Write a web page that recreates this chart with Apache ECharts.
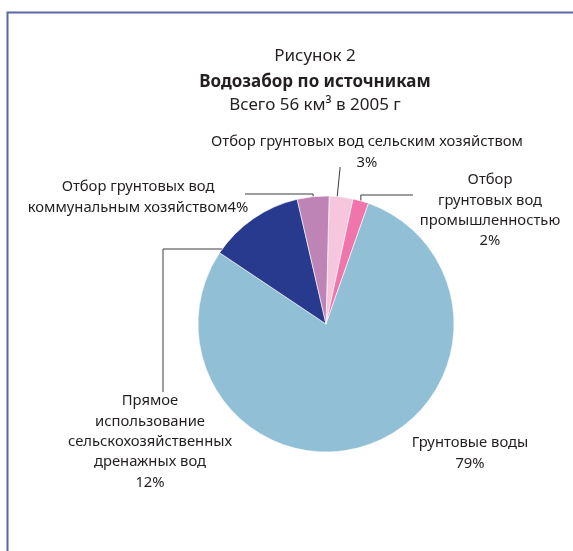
<!DOCTYPE html>
<html>
<head>
<meta charset="utf-8">
<script src="https://cdn.jsdelivr.net/npm/echarts@6/dist/echarts.min.js"></script>
<style>
  html, body { margin: 0; padding: 0; background: #fff; }
  #chart { width: 573px; height: 551px; }
</style>
</head>
<body>
<div id="chart"></div>
<script>
// Water withdrawal by source, 2005 (share of total, %)
const categories = [
  'Отбор грунтовых вод сельским хозяйством',
  'Отбор\nгрунтовых вод\nпромышленностью',
  'Грунтовые воды',
  'Прямое\nиспользование\nсельскохозяйственных\nдренажных вод',
  'Отбор грунтовых вод\nкоммунальным хозяйством'
];
const shares = [3, 2, 79, 12, 4];
const sliceColors = ['#f6c6dd', '#ef75ab', '#91bfd6', '#283a8e', '#bd84b5'];
const titleLines = ['Рисунок 2', 'Водозабор по источникам', 'Всего 56 км³ в 2005 г'];

const FONT = '"Noto Sans", sans-serif';
const TEXT_COLOR = '#231f20';
const LINE_H = 20.3;

const chart = echarts.init(document.getElementById('chart'), null, { renderer: 'canvas' });

// Label placement: centre x and top y of each label block
const labelPos = [
  { x: 367, y: 132 },
  { x: 490, y: 170 },
  { x: 470, y: 433 },
  { x: 150, y: 391 },
  { x: 138, y: 177 }
];

function pieGeom(i) {
  return chart.getModel().getSeriesByIndex(0).getData().getItemLayout(i);
}

// Elbow-shaped leader lines, starting on the slice edge
function leaderPoints(i, anchor) {
  switch (i) {
    case 0: return [[anchor[0] - 4, anchor[1] + 0.5], [anchor[0] - 2.5, 182], [anchor[0] - 1, 167]];
    case 1: return [anchor, [anchor[0], 195], [413, 195]];
    case 3: {
      const g = pieGeom(3);
      const y = 249;
      const x = g.cx - Math.sqrt(g.r * g.r - (y - g.cy) * (y - g.cy));
      return [[x, y], [163, y], [163, 392]];
    }
    case 4: return [anchor, [anchor[0], 194], [245, 194]];
  }
  return null;
}

const data = categories.map((name, i) => ({
  name: name,
  value: shares[i],
  itemStyle: { color: sliceColors[i] },
  label: { formatter: name + '\n' + shares[i] + '%' },
  labelLine: { show: i !== 2 }
}));
// the municipal label keeps its share on the same line as the name
data[4].label.formatter = 'Отбор грунтовых вод\nкоммунальным хозяйством' + shares[4] + '%';

const titleStyle = { fontFamily: FONT, fontSize: 17, fontWeight: 'normal', color: TEXT_COLOR };

const option = {
  backgroundColor: '#fff',
  animation: false,
  title: [
    { text: titleLines[0], left: 310, top: 42.5, textAlign: 'center', textStyle: titleStyle },
    { text: titleLines[1], left: 310, top: 68.5, textAlign: 'center',
      textStyle: Object.assign({}, titleStyle, { fontWeight: 'bold' }) },
    { text: titleLines[2], left: 310, top: 92, textAlign: 'center', textStyle: titleStyle }
  ],
  graphic: [
    { type: 'polyline', silent: true,
      shape: { points: [[7.5, 560], [7.5, 12.5], [580, 12.5]] },
      style: { stroke: '#5a68a6', lineWidth: 2, fill: null } }
  ],
  series: [{
    type: 'pie',
    center: [326, 324],
    radius: 128,
    startAngle: 88.6,
    clockwise: true,
    avoidLabelOverlap: false,
    itemStyle: { borderColor: '#ffffff', borderWidth: 0.6 },
    label: {
      show: true,
      position: 'outside',
      fontFamily: FONT,
      fontSize: 14.8,
      lineHeight: LINE_H,
      color: TEXT_COLOR,
      align: 'center'
    },
    labelLine: {
      show: true,
      length: 10,
      length2: 10,
      lineStyle: { color: '#3c3c3c', width: 1 }
    },
    labelLayout: function (params) {
      const i = params.dataIndex;
      const p = labelPos[i];
      const out = { x: p.x, y: p.y, align: 'center', verticalAlign: 'top' };
      const pts = params.labelLinePoints;
      if (pts && pts.length) {
        const lp = leaderPoints(i, pts[0]);
        if (lp) out.labelLinePoints = lp;
      }
      return out;
    },
    data: data
  }]
};

chart.setOption(option);
</script>
</body>
</html>
